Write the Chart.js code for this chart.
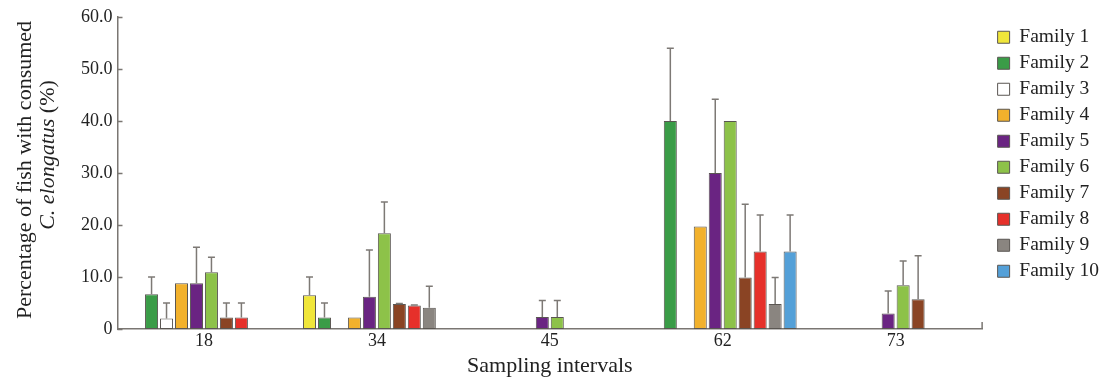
<!DOCTYPE html>
<html>
<head>
<meta charset="utf-8">
<script src="https://cdn.jsdelivr.net/npm/chart.js@4.4.1/dist/chart.umd.min.js"></script>
<style>
  html, body { margin: 0; padding: 0; background: #fff; }
  #wrap { width: 1102px; height: 381px; }
</style>
</head>
<body>
<div id="wrap"><canvas id="fishChart"></canvas></div>
<script>
const intervals = ['18', '34', '45', '62', '73'];
const familyNames = ['Family 1', 'Family 2', 'Family 3', 'Family 4', 'Family 5',
                     'Family 6', 'Family 7', 'Family 8', 'Family 9', 'Family 10'];
const familyColors = ['#f0e63a', '#3a9c47', '#ffffff', '#f2b12c', '#6a2482',
                      '#8dc249', '#8a4424', '#e6302a', '#8a8580', '#54a0d8'];

// mean percentage per sampling interval (18, 34, 45, 62, 73)
const family1 = [null, 6.5, null, null, null];
const family2 = [6.7, 2.2, null, 40.0, null];
const family3 = [2.0, null, null, null, null];
const family4 = [8.8, 2.2, null, 19.7, null];
const family5 = [8.8, 6.2, 2.3, 30.0, 3.0];
const family6 = [10.9, 18.4, 2.3, 40.0, 8.4];
const family7 = [2.2, 4.8, null, 9.9, 5.7];
const family8 = [2.2, 4.5, null, 14.9, null];
const family9 = [null, 4.1, null, 4.8, null];
const family10 = [null, null, null, 14.9, null];

// upper error (SD) per interval
const family1Err = [null, 3.5, null, null, null];
const family2Err = [3.3, 2.8, null, 14.0, null];
const family3Err = [3.0, null, null, null, null];
const family4Err = [null, null, null, null, null];
const family5Err = [6.9, 9.0, 3.2, 14.2, 4.3];
const family6Err = [2.9, 6.0, 3.2, null, 4.7];
const family7Err = [2.8, 0.1, null, 14.1, 8.4];
const family8Err = [2.8, 0.1, null, 7.0, null];
const family9Err = [null, 4.1, null, 5.1, null];
const family10Err = [null, null, null, 7.0, null];

const yTicks = [0, 10, 20, 30, 40, 50, 60];

const means = [family1, family2, family3, family4, family5, family6, family7, family8, family9, family10];
const errs = [family1Err, family2Err, family3Err, family4Err, family5Err,
              family6Err, family7Err, family8Err, family9Err, family10Err];

const serif = "'Liberation Serif', 'Times New Roman', serif";
const axisColor = '#7a7672';

const errorBars = {
    id: 'errorBars',
    afterDatasetsDraw(chart) {
        const ctx = chart.ctx;
        const y = chart.scales.y;
        ctx.save();
        ctx.strokeStyle = '#7d7975';
        ctx.lineWidth = 1.5;
        chart.data.datasets.forEach((ds, i) => {
            const meta = chart.getDatasetMeta(i);
            meta.data.forEach((bar, j) => {
                const v = ds.data[j];
                const e = ds.errors[j];
                if (v == null || e == null) return;
                const top = y.getPixelForValue(v + e);
                ctx.beginPath();
                ctx.moveTo(bar.x, bar.y);
                ctx.lineTo(bar.x, top);
                ctx.moveTo(bar.x - 3.5, top);
                ctx.lineTo(bar.x + 3.5, top);
                ctx.stroke();
            });
        });
        ctx.restore();
    }
};

// nudge the legend a little right and down, as in the original figure
const legendNudge = {
    id: 'legendNudge',
    afterLayout(chart) {
        const lg = chart.legend;
        if (!lg) return;
        lg.left += 9; lg.right += 9;
        lg.top += 4; lg.bottom += 4;
    }
};

const axisDecor = {
    id: 'axisDecor',
    afterDraw(chart) {
        const ctx = chart.ctx;
        const area = chart.chartArea;
        const y = chart.scales.y;
        ctx.save();
        ctx.strokeStyle = axisColor;
        ctx.lineWidth = 1.5;
        ctx.beginPath();
        yTicks.forEach(t => {
            const py = Math.round(y.getPixelForValue(t)) + 0.5;
            ctx.moveTo(area.left, py);
            ctx.lineTo(area.left + 5, py);
        });
        ctx.moveTo(area.right, area.bottom);
        ctx.lineTo(area.right, area.bottom - 7);
        ctx.stroke();

        // y axis title, second line partly italic
        ctx.translate(25, 0);
        ctx.rotate(-Math.PI / 2);
        ctx.fillStyle = '#222';
        ctx.textBaseline = 'middle';
        ctx.textAlign = 'center';
        ctx.font = '22px ' + serif;
        ctx.fillText('Percentage of fish with consumed', -170, 0);
        const italic = 'italic 22px ' + serif;
        const normal = '22px ' + serif;
        ctx.font = italic;
        const w1 = ctx.measureText('C. elongatus').width;
        ctx.font = normal;
        const w2 = ctx.measureText(' (%)').width;
        const x0 = -155 - (w1 + w2) / 2;
        ctx.textAlign = 'left';
        ctx.font = italic;
        ctx.fillText('C. elongatus', x0, 23);
        ctx.font = normal;
        ctx.fillText(' (%)', x0 + w1, 23);
        ctx.restore();
    }
};

const ctx = document.getElementById('fishChart').getContext('2d');

new Chart(ctx, {
    type: 'bar',
    data: {
        labels: intervals,
        datasets: familyNames.map((name, i) => ({
            label: name,
            data: means[i],
            errors: errs[i],
            backgroundColor: familyColors[i],
            borderColor: '#5a5652',
            borderWidth: 1,
            borderSkipped: false,
            categoryPercentage: 0.866,
            barPercentage: 0.87
        }))
    },
    options: {
        animation: false,
        responsive: true,
        maintainAspectRatio: false,
        layout: {
            padding: { left: 76, top: 17, right: 2, bottom: 0 }
        },
        scales: {
            x: {
                grid: { display: false, drawTicks: false },
                border: { color: axisColor, width: 1.5 },
                ticks: { color: '#222', font: { family: serif, size: 18 }, padding: 1 },
                title: {
                    display: true,
                    text: 'Sampling intervals',
                    color: '#222',
                    font: { family: serif, size: 22 },
                    padding: { top: 0, bottom: 2 }
                }
            },
            y: {
                min: 0,
                max: 60,
                grid: { display: false, drawTicks: false },
                border: { color: axisColor, width: 1.5 },
                afterBuildTicks: (scale) => { scale.ticks = yTicks.map(v => ({ value: v })); },
                ticks: {
                    color: '#222',
                    font: { family: serif, size: 18 },
                    padding: 5,
                    callback: (v) => v === 0 ? '0' : v.toFixed(1)
                }
            }
        },
        plugins: {
            legend: {
                position: 'right',
                align: 'start',
                labels: {
                    boxWidth: 12,
                    boxHeight: 12,
                    padding: 6.5,
                    color: '#222',
                    font: { family: serif, size: 19.5 }
                }
            },
            tooltip: { enabled: false }
        }
    },
    plugins: [errorBars, axisDecor, legendNudge]
});
</script>
</body>
</html>
